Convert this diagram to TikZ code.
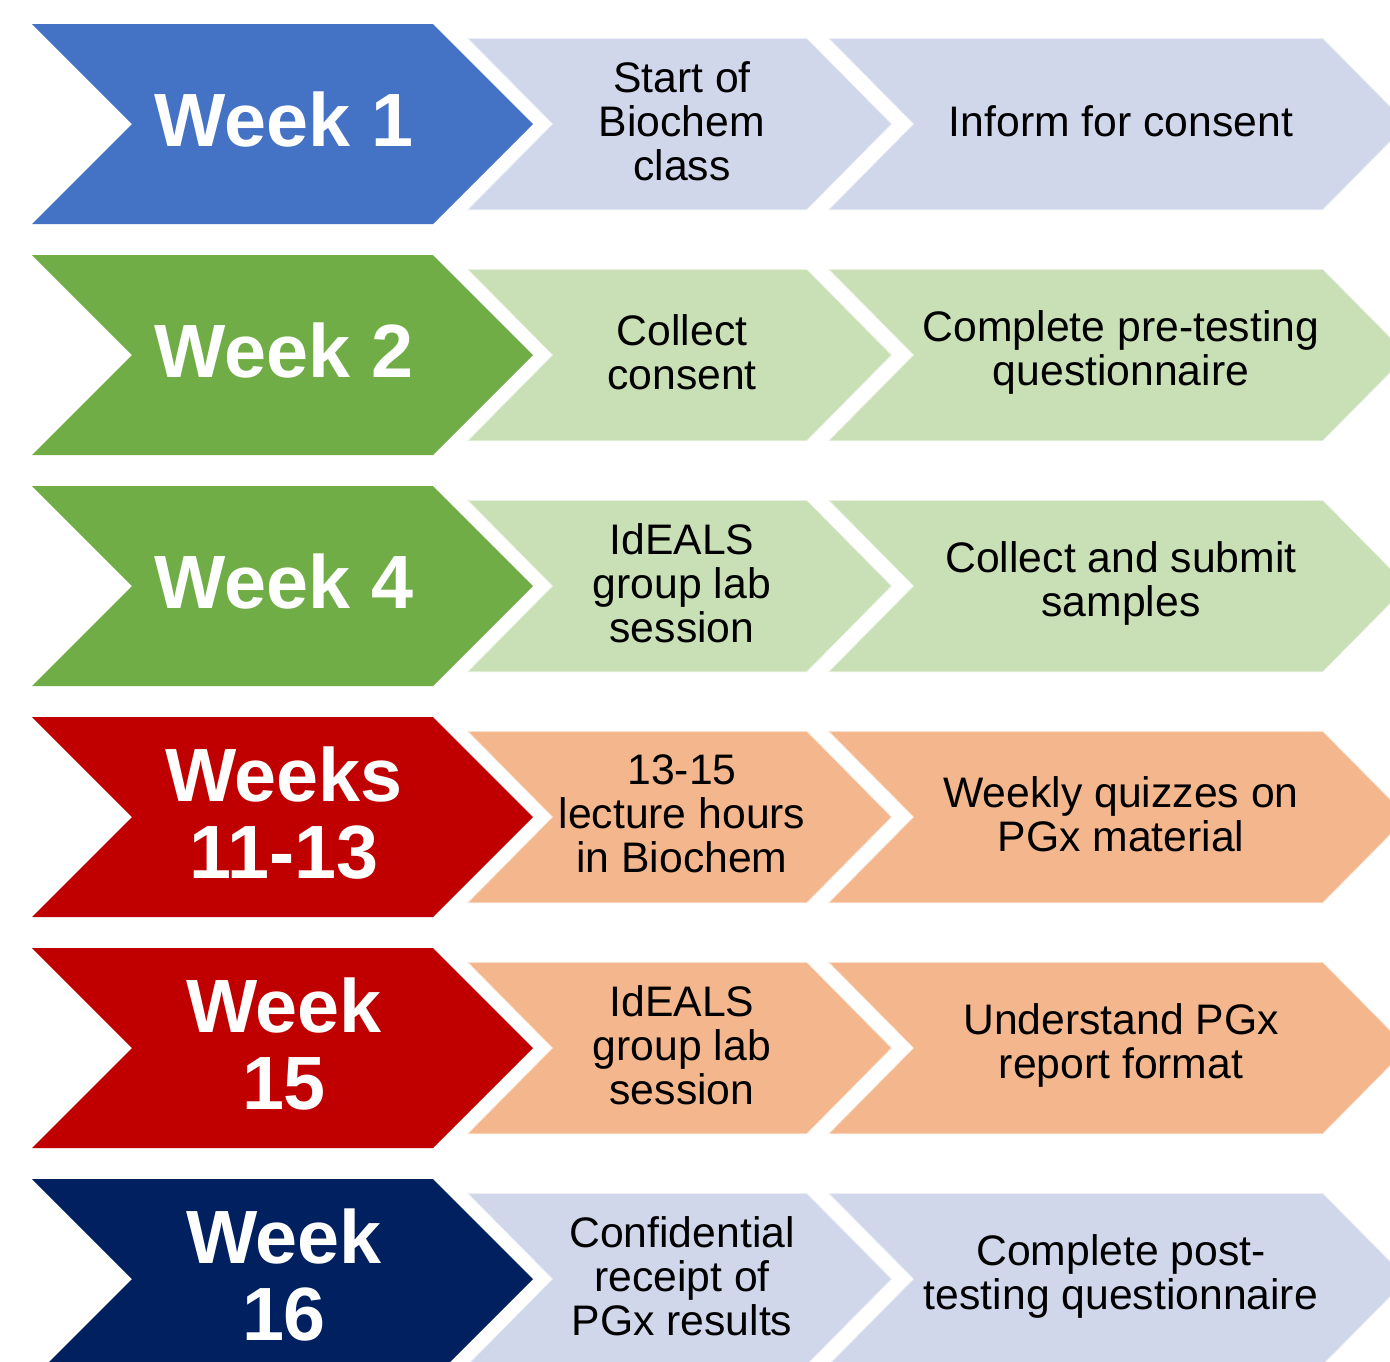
\documentclass[tikz,border=0pt]{standalone}
\usepackage{fontspec}
\setmainfont{Liberation Sans}
\usepackage{tikz}
\usetikzlibrary{positioning}

\definecolor{wkblue}{HTML}{4472C4}
\definecolor{wkgreen}{HTML}{70AD47}
\definecolor{wkred}{HTML}{C00000}
\definecolor{wknavy}{HTML}{002060}
\definecolor{lblue}{HTML}{D0D7EB}
\definecolor{lgreen}{HTML}{C9E0B7}
\definecolor{lorange}{HTML}{F4B78D}

\begin{document}
\begin{tikzpicture}[x=1pt,y=-1pt,
	bigtxt/.style={text=white,font=\fontsize{75.5}{77}\selectfont\bfseries,align=center},
	smalltxt/.style={text=black,font=\fontsize{42.7}{44}\selectfont,align=center},
	lightedge/.style={draw=white,draw opacity=0.6,line width=1.5pt}]

		\useasboundingbox (0,0) rectangle (1390,1361);
		\clip (0,0) rectangle (1390,1361);

		\foreach \i/\dark/\light/\wk/\ta/\tb in {
			0/wkblue/lblue/{Week 1}/{Start of\\Biochem\\class}/{Inform for consent},
			1/wkgreen/lgreen/{Week 2}/{Collect\\consent}/{Complete pre-testing\\questionnaire},
			2/wkgreen/lgreen/{Week 4}/{IdEALS\\group lab\\session}/{Collect and submit\\samples},
			3/wkred/lorange/{Weeks\\11-13}/{13-15\\lecture hours\\in Biochem}/{Weekly quizzes on\\PGx material},
			4/wkred/lorange/{Week\\15}/{IdEALS\\group lab\\session}/{Understand PGx\\report format},
			5/wknavy/lblue/{Week\\16}/{Confidential\\receipt of\\PGx results}/{Complete post-\\testing questionnaire}}{
			\pgfmathsetmacro\t{24+231*\i}
			\fill[\dark] (32,\t) -- ++(401,0) -- ++(100,100) -- ++(-100,100) -- ++(-401,0) -- ++(100,-100) -- cycle;
			\path[fill=\light,lightedge] (467,\t+14) -- ++(340,0) -- ++(85,86) -- ++(-85,86) -- ++(-340,0) -- ++(85,-86) -- cycle;
			\path[fill=\light,lightedge] (828,\t+14) -- ++(495,0) -- ++(85,86) -- ++(-85,86) -- ++(-495,0) -- ++(85,-86) -- cycle;
			\node[bigtxt] (wk\i) at (284,\t+96) {\wk};
			\node[smalltxt] (a\i) at (682,\t+97) {\ta};
			\node[smalltxt] (b\i) at (1121,\t+97) {\tb};
		}

	\end{tikzpicture}
\end{document}
